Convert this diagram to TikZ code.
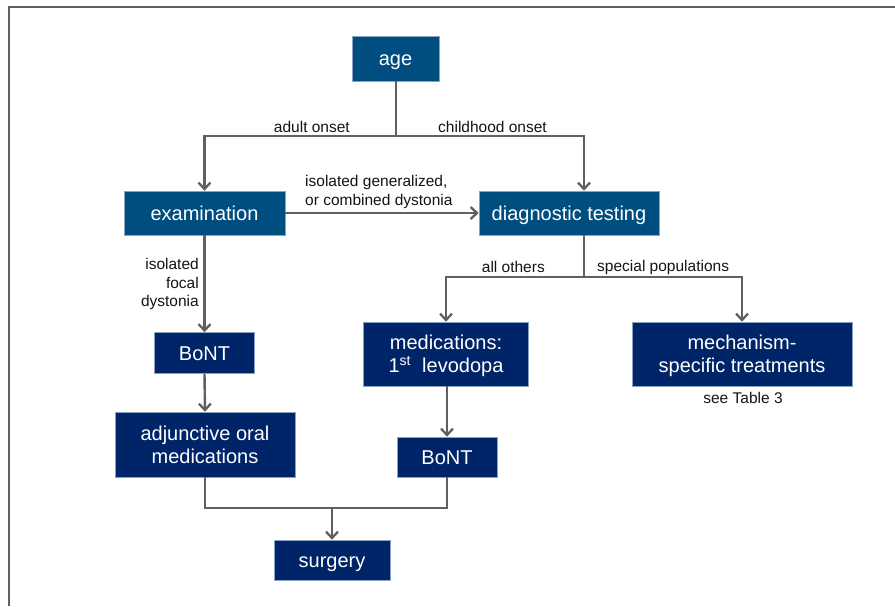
\documentclass[tikz,border=0pt]{standalone}
\usepackage{fontspec}
\setmainfont{Liberation Sans}
\usetikzlibrary{arrows.meta}
\definecolor{topblue}{RGB}{0,77,128}
\definecolor{navy}{RGB}{0,36,104}
\definecolor{edgeblue}{RGB}{140,160,195}
\definecolor{linegray}{RGB}{96,96,96}
\definecolor{txt}{RGB}{20,20,20}
\begin{document}
\begin{tikzpicture}[x=1pt,y=-1pt,
  boxbase/.style={rectangle,draw=edgeblue,line width=0.5pt,text=white,inner sep=0pt,align=center,
    text depth=0pt,font=\fontsize{20}{23}\selectfont},
  oneline/.style={text height=14.4pt},
  topbox/.style={boxbase,fill=topblue},
  lowbox/.style={boxbase,fill=navy},
  conn/.style={draw=linegray,line width=2.4pt},
  arr/.style={conn,-{Straight Barb[length=6.5pt,width=12pt,line width=2.3pt]}},
  lbl/.style={text=txt,inner sep=0pt,font=\fontsize{15.5}{18.5}\selectfont}]
\useasboundingbox (0,0) rectangle (895,606);
% frame
\draw[linegray,line width=2pt] (8.5,606) -- (8.5,7) -- (895,7);
% boxes
\node[topbox,oneline,minimum width=87pt,minimum height=45pt] (age) at (395.5,58.5) {age};
\node[topbox,oneline,minimum width=161pt,minimum height=44pt] (exam) at (204.5,213) {examination};
\node[topbox,oneline,minimum width=180pt,minimum height=44pt] (diag) at (569,213) {diagnostic testing};
\node[lowbox,oneline,minimum width=100pt,minimum height=41pt] (bont1) at (204.5,353) {BoNT};
\node[lowbox,minimum width=165pt,minimum height=64pt] (med) at (446,354) {medications:\\1\textsuperscript{st}\ \ levodopa};
\node[lowbox,minimum width=220pt,minimum height=64pt] (mech) at (742,354) {mechanism-\\specific treatments};
\node[lowbox,minimum width=180pt,minimum height=65pt] (adj) at (205,444.5) {adjunctive oral\\medications};
\node[lowbox,oneline,minimum width=100pt,minimum height=40pt] (bont2) at (447,457) {BoNT};
\node[lowbox,oneline,minimum width=116pt,minimum height=40pt] (surg) at (332,560) {surgery};
% junctions
\coordinate (j1) at (396,136);
\coordinate (dx) at (584,0);
\coordinate (j2) at (584,277);
\coordinate (j3) at (332,508);
% connectors
\draw[conn] (age.south -| j1) -- (j1);
\draw[arr] (j1) -| (exam.north);
\draw[arr] (j1) -| (diag.north -| dx);
\draw[arr] (exam.east) -- (diag.west);
\draw[arr] (exam.south) -- (bont1.north);
\draw[arr] (bont1.south) -- (adj.north);
\draw[conn] (diag.south -| dx) -- (j2);
\draw[arr] (j2) -| (med.north);
\draw[arr] (j2) -| (mech.north);
\draw[arr] (med.south -| bont2.north) -- (bont2.north);
\draw[conn] (adj.south) |- (j3) -| (bont2.south);
\draw[arr] (j3) -- (surg.north);
% labels
\node[lbl,anchor=east] (l1) at (350,127) {adult onset};
\node[lbl,anchor=west] (l2) at (438,127) {childhood onset};
\node[lbl,anchor=west,align=left] (l3) at (305,192) {isolated generalized,\\or combined dystonia};
\node[lbl,anchor=east,align=right] (l4) at (199,284) {isolated\\focal\\dystonia};
\node[lbl,anchor=east] (l5) at (545,267) {all others};
\node[lbl,anchor=west] (l6) at (597,267) {special populations};
\node[lbl] (l7) at (743,398) {see Table 3};
\end{tikzpicture}
\end{document}
